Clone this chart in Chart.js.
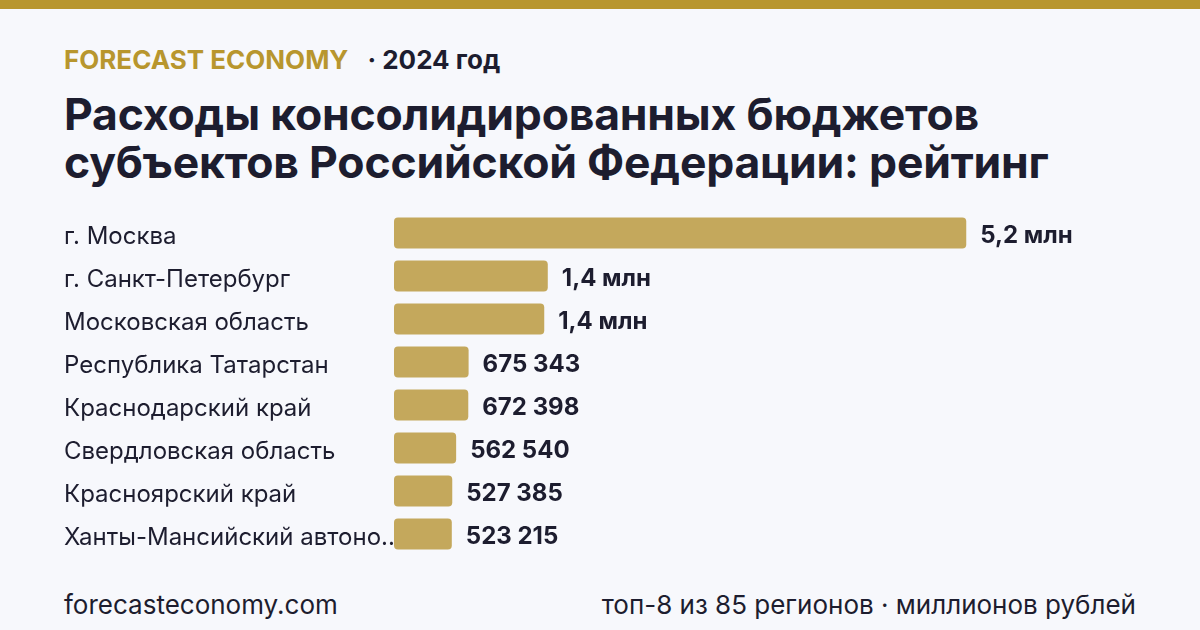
<!DOCTYPE html>
<html><head><meta charset="utf-8">
<script src="https://cdn.jsdelivr.net/npm/chart.js@4/dist/chart.umd.min.js"></script>
<style>
html,body{margin:0;padding:0;width:1200px;height:630px;overflow:hidden;background:#f7f8fc;font-family:Inter,"Noto Sans",sans-serif;color:#1d1d2f}
#topbar{position:absolute;left:0;top:0;width:1200px;height:9px;background:#b8962e}
#brand{position:absolute;left:64px;top:44px;font-size:26px;font-weight:700;white-space:nowrap}
#brand .b{color:#b8962e}
#brand .y{color:#1d1d2f;margin-left:19px}
#title{position:absolute;left:64px;top:90px;font-size:44.5px;font-weight:700;line-height:48px;letter-spacing:-0.2px}
#wrap{position:absolute;left:64px;top:197px;width:1100px;height:373px}
#footl{position:absolute;left:64px;top:589px;font-size:26px}
#footr{position:absolute;right:64px;top:589px;font-size:26px}
</style></head>
<body>
<div id="topbar"></div>
<div id="brand"><span class="b">FORECAST ECONOMY</span><span class="y">· 2024 год</span></div>
<div id="title">Расходы консолидированных бюджетов<br>субъектов Российской Федерации: рейтинг</div>
<div id="wrap"><canvas id="c"></canvas></div>
<div id="footl">forecasteconomy.com</div>
<div id="footr">топ-8 из 85 регионов · миллионов рублей</div>
<script>
const categories = ["г. Москва","г. Санкт-Петербург","Московская область","Республика Татарстан","Краснодарский край","Свердловская область","Красноярский край","Ханты-Мансийский автономный округ — Югра"];
const values = [5180000,1392000,1360000,675343,672398,562540,527385,523215];
const xMax = 6970000;

function fmt(v){
  if(v>=1e6) return (v/1e6).toFixed(1).replace('.',',')+' млн';
  return String(Math.round(v)).replace(/\B(?=(\d{3})+(?!\d))/g,' ');
}
const valueLabels = {
  id:'valueLabels',
  afterDatasetsDraw(chart){
    const ctx=chart.ctx; const meta=chart.getDatasetMeta(0);
    ctx.save();
    ctx.font='700 24px Inter';
    ctx.fillStyle='#1d1d2f';
    ctx.textBaseline='middle';
    meta.data.forEach((bar,i)=>{ ctx.fillText(fmt(values[i]), bar.x+14, bar.y+3); });
    ctx.restore();
  }
};
new Chart(document.getElementById('c'),{
  type:'bar',
  data:{labels:categories,datasets:[{data:values,backgroundColor:'#c4a85c',borderRadius:4,borderSkipped:false,categoryPercentage:1,barPercentage:0.72}]},
  options:{
    indexAxis:'y',responsive:true,maintainAspectRatio:false,animation:false,
    layout:{padding:0},
    plugins:{legend:{display:false},tooltip:{enabled:false}},
    scales:{
      x:{display:false,min:0,max:xMax},
      y:{
        grid:{display:false},border:{display:false},
        afterFit(s){s.width=330;},
        ticks:{crossAlign:'far',padding:0,labelOffset:4,color:'#1d1d2f',font:{family:'Inter',size:24},
          callback(v,i){const t=categories[i];return t.length>24?t.slice(0,23)+'...':t;}}
      }
    }
  },
  plugins:[valueLabels]
});
</script>
</body></html>
